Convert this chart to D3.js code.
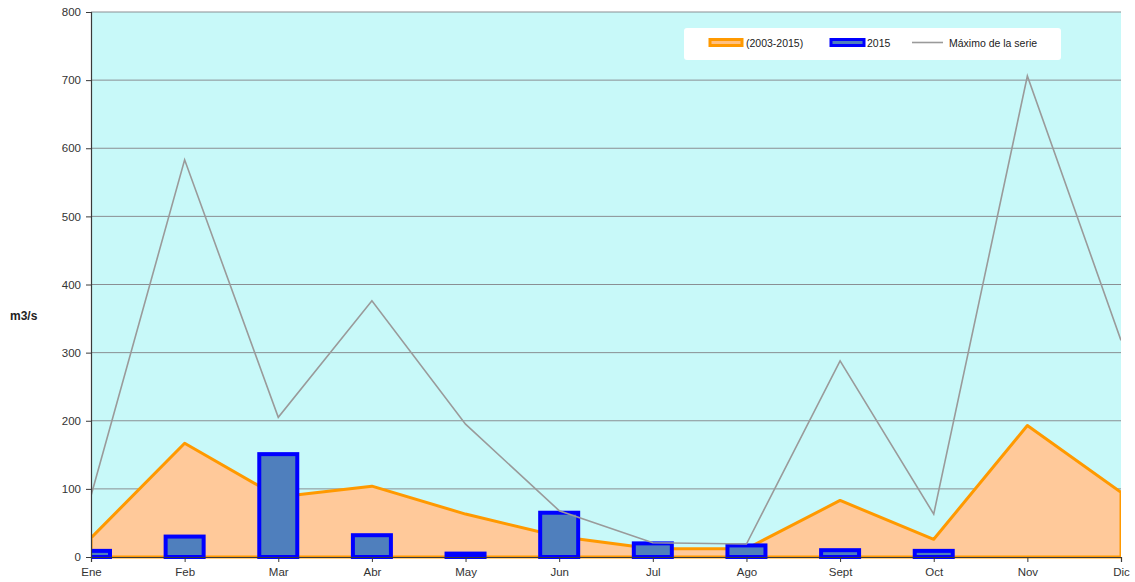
<!DOCTYPE html>
<html>
<head>
<meta charset="utf-8">
<script src="https://cdn.jsdelivr.net/npm/d3@7"></script>
<style>
  html, body { margin: 0; padding: 0; background: #ffffff; }
  svg { display: block; font-family: "Liberation Sans", Arial, sans-serif; }
</style>
</head>
<body>
<svg id="chart" width="1135" height="582"></svg>
<script>
const months = ["Ene","Feb","Mar","Abr","May","Jun","Jul","Ago","Sept","Oct","Nov","Dic"];
const mean20032015 = [28, 167, 88, 104, 63, 30, 12, 12, 83, 26, 193, 95];
const values2015   = [9, 30, 151, 32, 5, 65, 20, 17, 10, 9, 0, 0];
const maxSerie     = [90, 583, 205, 376, 195, 68, 21, 19, 288, 63, 706, 318];
const yTicks       = [0, 100, 200, 300, 400, 500, 600, 700, 800];
const legendLabels = ["(2003-2015)", "2015", "Máximo de la serie"];

const svg = d3.select("#chart");
const L = 91, R = 1121, T = 12, B = 557;

const x = d3.scalePoint().domain(months).range([L, R]);
const y = d3.scaleLinear().domain([0, 800]).range([B, T]);

// plot background
svg.append("rect").attr("x", L).attr("y", T).attr("width", R - L).attr("height", B - T)
  .attr("fill", "#c8f9f9");

svg.append("defs").append("clipPath").attr("id", "plotclip")
  .append("rect").attr("x", L).attr("y", T - 2).attr("width", R - L).attr("height", B - T + 4);

// gridlines
svg.append("g").selectAll("line").data(yTicks.filter(d => d > 0)).join("line")
  .attr("x1", L).attr("x2", R).attr("y1", d => y(d)).attr("y2", d => y(d))
  .attr("stroke", "#8a8f93").attr("stroke-width", 1);

const plot = svg.append("g").attr("clip-path", "url(#plotclip)");

// area
const area = d3.area().x((d, i) => x(months[i])).y0(y(0)).y1(d => y(d));
plot.append("path").datum(mean20032015).attr("d", area)
  .attr("fill", "#ffc99a").attr("stroke", "#ff9900").attr("stroke-width", 3)
  .attr("stroke-linejoin", "round");

// bars
plot.append("g").selectAll("rect").data(values2015).join("rect")
  .attr("x", (d, i) => x(months[i]) - 19)
  .attr("y", d => y(d))
  .attr("width", 38)
  .attr("height", d => y(0) - y(d))
  .attr("fill", "#4f7fbd")
  .attr("stroke", "#0000ff")
  .attr("stroke-width", d => d > 0 ? 4 : 0);

// max line
const line = d3.line().x((d, i) => x(months[i])).y(d => y(d));
plot.append("path").datum(maxSerie).attr("d", line)
  .attr("fill", "none").attr("stroke", "#9a9a9a").attr("stroke-width", 1.6);

// axes
const yAxis = svg.append("g").attr("transform", `translate(${L},0)`)
  .call(d3.axisLeft(y).tickValues(yTicks).tickSize(5).tickPadding(5));
const xAxis = svg.append("g").attr("transform", `translate(0,${B})`)
  .call(d3.axisBottom(x).tickSize(5).tickPadding(6));
[yAxis, xAxis].forEach(g => {
  g.select(".domain").attr("stroke", "#3a3a3a").attr("stroke-width", 1.2);
  g.selectAll(".tick line").attr("stroke", "#3a3a3a");
  g.selectAll(".tick text").attr("fill", "#333").attr("font-size", 11.5)
    .attr("font-family", "'Liberation Sans', Arial, sans-serif");
});

svg.append("text").attr("x", 10).attr("y", 320).text("m3/s")
  .attr("font-size", 12).attr("font-weight", "bold").attr("fill", "#222");

// legend
const lg = svg.append("g");
lg.append("rect").attr("x", 684).attr("y", 28).attr("width", 377).attr("height", 32)
  .attr("fill", "#ffffff").attr("rx", 3);
const items = [
  {sx: 710, tx: 746, type: "area"},
  {sx: 831, tx: 867, type: "bar"},
  {sx: 912, tx: 949, type: "line"}
];
items.forEach((it, i) => {
  if (it.type === "area") {
    lg.append("rect").attr("x", it.sx).attr("y", 39.5).attr("width", 32).attr("height", 6)
      .attr("fill", "#ffc080").attr("stroke", "#ff9900").attr("stroke-width", 3);
  } else if (it.type === "bar") {
    lg.append("rect").attr("x", it.sx).attr("y", 39.5).attr("width", 33).attr("height", 6)
      .attr("fill", "#4f7fbd").attr("stroke", "#0000ff").attr("stroke-width", 3);
  } else {
    lg.append("line").attr("x1", it.sx).attr("x2", it.sx + 31).attr("y1", 42.5).attr("y2", 42.5)
      .attr("stroke", "#9a9a9a").attr("stroke-width", 1.6);
  }
  lg.append("text").attr("x", it.tx).attr("y", 46.5).text(legendLabels[i])
    .attr("font-size", 10.5).attr("fill", "#222");
});
</script>
</body>
</html>
